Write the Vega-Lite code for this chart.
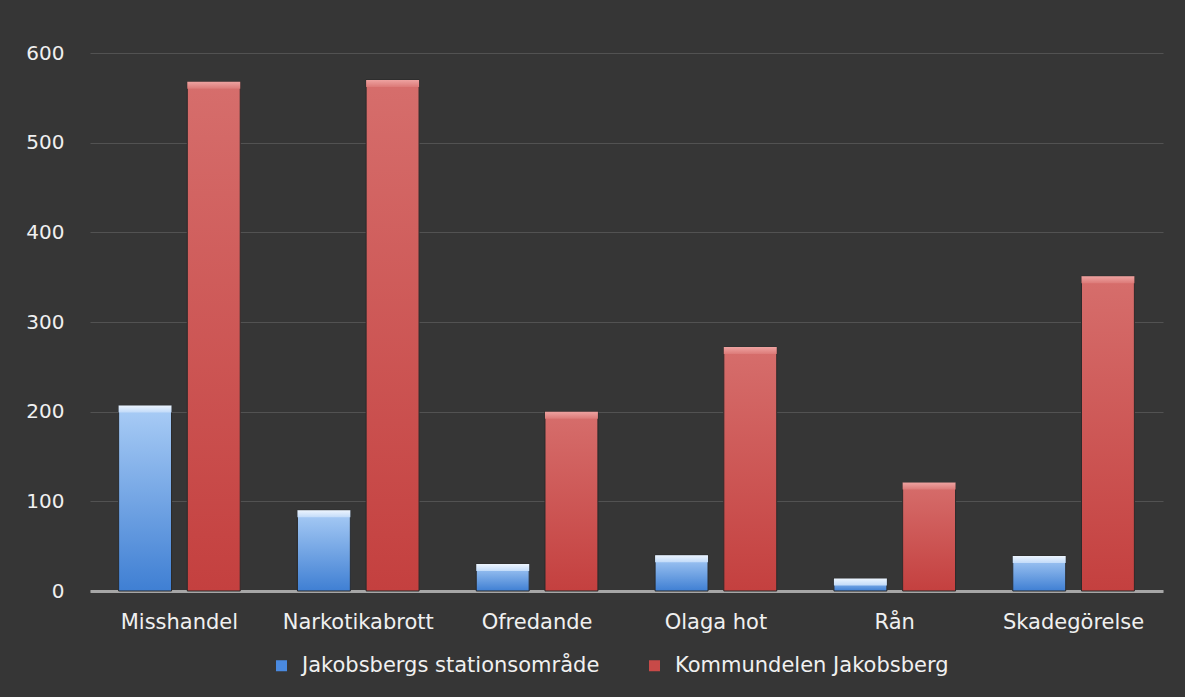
{
  "$schema": "https://vega.github.io/schema/vega-lite/v6.json",
  "width": 1073,
  "height": 538,
  "autosize": {"type": "none"},
  "padding": {"left": 90, "top": 53, "right": 22, "bottom": 106},
  "background": "#363636",
  "data": {
    "values": [
      {"kategori": "Misshandel", "serie": "Jakobsbergs stationsområde", "antal": 207},
      {"kategori": "Misshandel", "serie": "Kommundelen Jakobsberg", "antal": 568},
      {"kategori": "Narkotikabrott", "serie": "Jakobsbergs stationsområde", "antal": 90},
      {"kategori": "Narkotikabrott", "serie": "Kommundelen Jakobsberg", "antal": 570},
      {"kategori": "Ofredande", "serie": "Jakobsbergs stationsområde", "antal": 30},
      {"kategori": "Ofredande", "serie": "Kommundelen Jakobsberg", "antal": 200},
      {"kategori": "Olaga hot", "serie": "Jakobsbergs stationsområde", "antal": 40},
      {"kategori": "Olaga hot", "serie": "Kommundelen Jakobsberg", "antal": 272},
      {"kategori": "Rån", "serie": "Jakobsbergs stationsområde", "antal": 14},
      {"kategori": "Rån", "serie": "Kommundelen Jakobsberg", "antal": 121},
      {"kategori": "Skadegörelse", "serie": "Jakobsbergs stationsområde", "antal": 39},
      {"kategori": "Skadegörelse", "serie": "Kommundelen Jakobsberg", "antal": 351}
    ]
  },
  "encoding": {
    "x": {
      "field": "kategori", "type": "nominal", "sort": null,
      "scale": {"paddingInner": 0.32, "paddingOuter": 0.16},
      "axis": {
        "title": null, "labelAngle": 0, "labelPadding": 20, "ticks": false,
        "domainColor": "#a6a6a6", "domainWidth": 3,
        "labelColor": "#f0f0f0", "labelFont": "DejaVu Sans", "labelFontSize": 21
      }
    },
    "xOffset": {"field": "serie", "type": "nominal", "sort": null, "scale": {"paddingInner": 0.23}},
    "y": {
      "field": "antal", "type": "quantitative",
      "scale": {"domain": [0, 600]},
      "axis": {
        "title": null, "values": [0, 100, 200, 300, 400, 500, 600],
        "domain": false, "ticks": false, "labelPadding": 26,
        "gridColor": "#525252", "gridWidth": 1.2,
        "labelColor": "#f0f0f0", "labelFont": "DejaVu Sans", "labelFontSize": 20
      }
    }
  },
  "layer": [
    {
      "mark": {"type": "bar"},
      "encoding": {
        "color": {
          "field": "serie", "type": "nominal", "sort": null,
          "scale": {"range": ["#4a8ae0", "#c84a48"]},
          "legend": {
            "title": null, "orient": "none", "direction": "horizontal",
            "legendX": 181, "legendY": 602,
            "symbolType": "square", "symbolSize": 121, "symbolStrokeWidth": 0,
            "labelColor": "#f0f0f0", "labelFont": "DejaVu Sans", "labelFontSize": 21,
            "labelLimit": 0, "columnPadding": 44, "labelOffset": 10
          }
        }
      }
    },
    {
      "transform": [{"filter": "datum.serie === 'Jakobsbergs stationsområde'"}],
      "mark": {
        "type": "bar", "stroke": "#2a2a2a", "strokeWidth": 1,
        "color": {"gradient": "linear", "x1": 0, "y1": 0, "x2": 0, "y2": 1,
          "stops": [{"offset": 0, "color": "#aacdf6"}, {"offset": 1, "color": "#3f7fd3"}]}
      }
    },
    {
      "transform": [{"filter": "datum.serie === 'Kommundelen Jakobsberg'"}],
      "mark": {
        "type": "bar", "stroke": "#2a2a2a", "strokeWidth": 1,
        "color": {"gradient": "linear", "x1": 0, "y1": 0, "x2": 0, "y2": 1,
          "stops": [{"offset": 0, "color": "#d66e6c"}, {"offset": 1, "color": "#c4403f"}]}
      }
    },
    {
      "transform": [{"filter": "datum.serie === 'Jakobsbergs stationsområde'"}],
      "mark": {
        "type": "bar", "y2Offset": 7,
        "color": {"gradient": "linear", "x1": 0, "y1": 0, "x2": 0, "y2": 1,
          "stops": [{"offset": 0, "color": "#edf5fe"}, {"offset": 1, "color": "#c2dbf9"}]}
      },
      "encoding": {"y2": {"field": "antal"}}
    },
    {
      "transform": [{"filter": "datum.serie === 'Kommundelen Jakobsberg'"}],
      "mark": {
        "type": "bar", "y2Offset": 7,
        "color": {"gradient": "linear", "x1": 0, "y1": 0, "x2": 0, "y2": 1,
          "stops": [{"offset": 0, "color": "#eea3a1"}, {"offset": 1, "color": "#dc7a78"}]}
      },
      "encoding": {"y2": {"field": "antal"}}
    }
  ],
  "config": {
    "view": {"stroke": null}
  }
}
